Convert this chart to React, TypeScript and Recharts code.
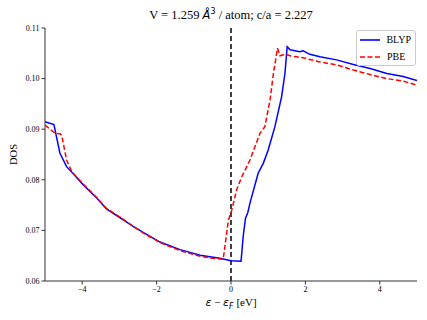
import { Line, LineChart, ReferenceLine, XAxis, YAxis } from 'recharts';

const blypX = [
  -5, -4.76, -4.6, -4.42, -4.24, -3.97, -3.61, -3.34, -2.98, -2.63, -2.36, -1.91, -1.37, -0.83,
  -0.3, 0, 0.27, 0.33, 0.39, 0.45, 0.51, 0.73, 0.87, 1.0, 1.18, 1.36, 1.45, 1.51, 1.59, 1.85,
  1.94, 2.12, 2.39, 2.84, 3.29, 3.74, 4.19, 4.63, 5.0,
];
const blypY = [
  0.0915, 0.0909, 0.0853, 0.0826, 0.0812, 0.079, 0.0764, 0.0742, 0.0725, 0.0708, 0.0696, 0.0677,
  0.0662, 0.0651, 0.0645, 0.064, 0.0639, 0.069, 0.0724, 0.0735, 0.0754, 0.0813, 0.0833, 0.0859,
  0.0905, 0.0964, 0.101, 0.1063, 0.1057, 0.1053, 0.1055, 0.1048, 0.1043, 0.1037, 0.1028, 0.102,
  0.101, 0.1004, 0.0996,
];

const pbeX = [
  -5, -4.73, -4.6, -4.55, -4.42, -4.28, -3.97, -3.61, -3.34, -2.98, -2.63, -2.36, -1.91, -1.37,
  -0.83, -0.5, -0.21, -0.07, 0.02, 0.15, 0.29, 0.51, 0.78, 0.91, 1.05, 1.14, 1.25, 1.32, 1.45,
  1.59, 1.77, 1.94, 2.39, 2.84, 3.29, 3.74, 4.19, 4.63, 5.0,
];
const pbeY = [
  0.0908, 0.0892, 0.0891, 0.0888, 0.0839, 0.0816, 0.0791, 0.0765, 0.0743, 0.0726, 0.0708, 0.0695,
  0.0676, 0.066, 0.0649, 0.0645, 0.0643, 0.072, 0.074, 0.078, 0.0806, 0.0839, 0.0892, 0.0905,
  0.0958, 0.101, 0.106, 0.1045, 0.1048, 0.1045, 0.1043, 0.1041, 0.1033, 0.1027, 0.1017, 0.1008,
  0.1, 0.0995, 0.0987,
];

const xTicks = [-4, -2, 0, 2, 4];
const yTicks = [0.06, 0.07, 0.08, 0.09, 0.1, 0.11];

const blyp = blypX.map((x, i) => ({ x, y: blypY[i] }));
const pbe = pbeX.map((x, i) => ({ x, y: pbeY[i] }));

const FONT = '"Liberation Serif", "DejaVu Serif", serif';
const MATH = '"DejaVu Sans", sans-serif';

function LegendBox() {
  const row = (label: string, color: string, dash?: string) => (
    <div style={{ display: 'flex', alignItems: 'center', height: 17 }}>
      <svg width={22} height={6} style={{ marginRight: 6 }}>
        <line x1={1} y1={3} x2={21} y2={3} stroke={color} strokeWidth={1.6} strokeDasharray={dash} />
      </svg>
      <span style={{ fontFamily: FONT, fontSize: 10, color: '#000' }}>{label}</span>
    </div>
  );
  return (
    <div
      style={{
        position: 'absolute',
        left: 356,
        top: 30,
        width: 52,
        border: '1px solid #ccc',
        borderRadius: 3,
        background: 'rgba(255,255,255,0.8)',
        padding: '0px 4px 0px 2px',
      }}
    >
      {row('BLYP', '#0000ff')}
      {row('PBE', '#ff0000', '5 2.5')}
    </div>
  );
}

export default function App() {
  return (
    <div style={{ position: 'absolute', left: 0, top: 0, width: 427, height: 320, background: '#fff' }}>
      <div
        style={{
          position: 'absolute',
          left: 45,
          width: 372,
          top: 7,
          textAlign: 'center',
          fontFamily: FONT,
          fontSize: 12.5,
        }}
      >
        V = 1.259 <i style={{ fontFamily: MATH, fontSize: 11.5 }}>Å</i>
        <sup style={{ fontFamily: MATH, fontSize: 8 }}>3</sup> / atom; c/a = 2.227
      </div>
      <LineChart width={427} height={320} margin={{ top: 28, right: 10, bottom: 0, left: 0 }}>
        <XAxis
          xAxisId="top"
          orientation="top"
          type="number"
          domain={[-5, 5]}
          height={0}
          tick={false}
          tickLine={false}
          axisLine={{ stroke: '#333', strokeWidth: 1 }}
        />
        <YAxis
          yAxisId="right"
          orientation="right"
          type="number"
          domain={[0.06, 0.11]}
          width={0}
          tick={false}
          tickLine={false}
          axisLine={{ stroke: '#333', strokeWidth: 1 }}
        />
        <XAxis
          dataKey="x"
          type="number"
          domain={[-5, 5]}
          ticks={xTicks}
          allowDataOverflow
          height={39}
          tick={{ fontSize: 8, fill: '#000', fontFamily: FONT }}
          tickSize={3.5}
          tickLine={{ stroke: '#333' }}
          axisLine={{ stroke: '#333', strokeWidth: 1 }}
          tickFormatter={(v: number) => String(v).replace('-', '\u2212')}
        />
        <YAxis
          type="number"
          domain={[0.06, 0.11]}
          ticks={yTicks}
          allowDataOverflow
          width={45}
          tick={{ fontSize: 8, fill: '#000', fontFamily: FONT }}
          tickSize={3.5}
          tickLine={{ stroke: '#333' }}
          axisLine={{ stroke: '#333', strokeWidth: 1 }}
          tickFormatter={(v: number) => v.toFixed(2)}
          label={{
            value: 'DOS',
            angle: -90,
            position: 'insideLeft',
            offset: 13,
            style: { fontSize: 10.5, fill: '#000', textAnchor: 'middle', fontFamily: FONT },
          }}
        />
        <ReferenceLine x={0} stroke="#000" strokeWidth={1.5} strokeDasharray="5 3" />
        <Line
          data={blyp}
          dataKey="y"
          type="linear"
          stroke="#0000ff"
          strokeWidth={1.5}
          dot={false}
          isAnimationActive={false}
        />
        <Line
          data={pbe}
          dataKey="y"
          type="linear"
          stroke="#ff0000"
          strokeWidth={1.5}
          strokeDasharray="5 2.5"
          dot={false}
          isAnimationActive={false}
        />
      </LineChart>
      <LegendBox />
      <div
        style={{
          position: 'absolute',
          left: 45,
          width: 372,
          top: 296,
          textAlign: 'center',
          fontFamily: FONT,
          fontSize: 11,
        }}
      >
        <i style={{ fontFamily: MATH, fontSize: 11 }}>ε</i> −{' '}
        <i style={{ fontFamily: MATH, fontSize: 11 }}>ε</i>
        <sub style={{ fontFamily: MATH, fontStyle: 'italic', fontSize: 8 }}>F</sub> [eV]
      </div>
    </div>
  );
}
